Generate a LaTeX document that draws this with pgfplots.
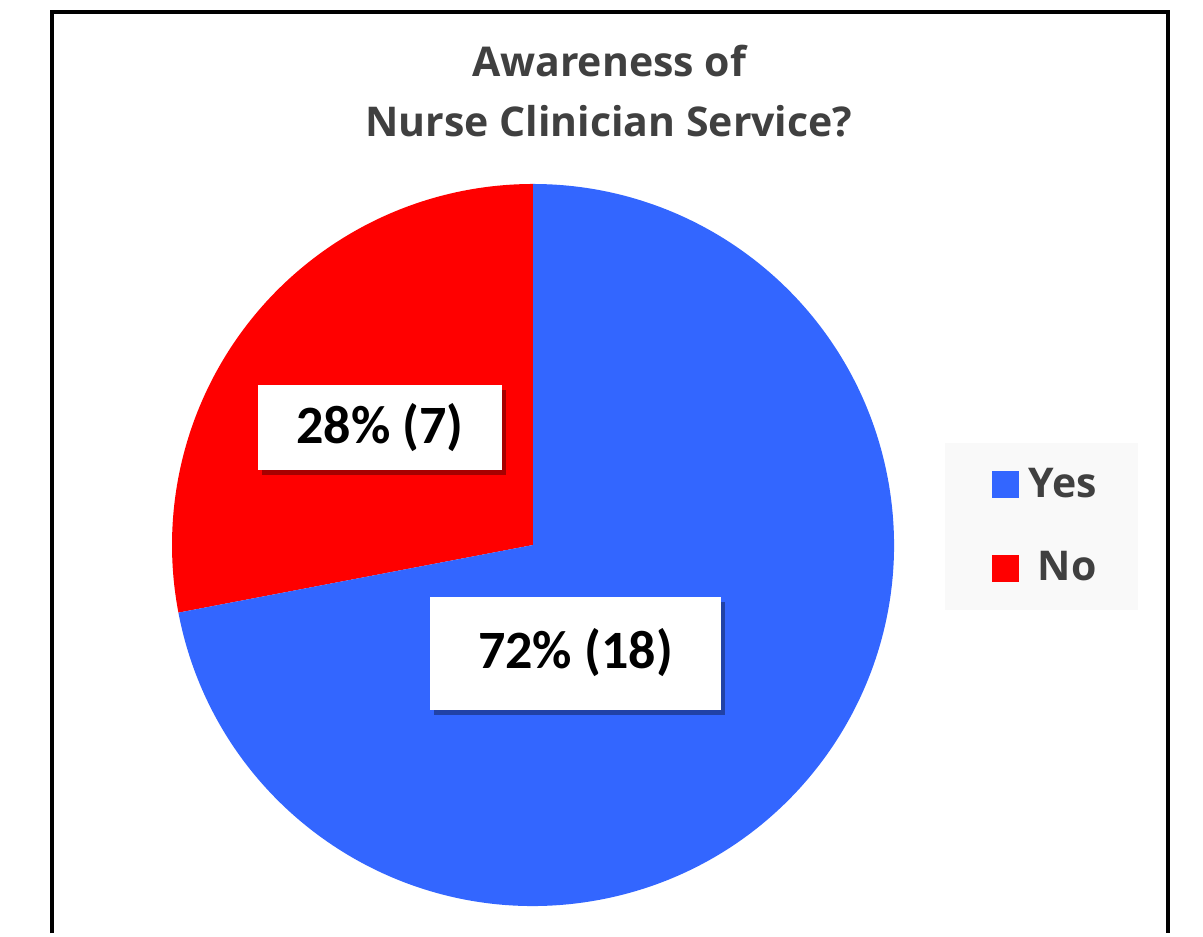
\documentclass[border=0pt]{standalone}
\usepackage{pgfplots}
\pgfplotsset{compat=1.18}
\usepackage{fontspec}
\setmainfont{Carlito}
\newfontfamily\osans{Open Sans}
\definecolor{yesblue}{HTML}{3366FF}
\definecolor{nored}{HTML}{FF0000}
\definecolor{txtgray}{HTML}{404040}
\definecolor{legbg}{HTML}{F9F9F9}
\begin{document}
\begin{tikzpicture}
% data
\def\yesval{18}
\def\noval{7}
\pgfmathsetmacro{\total}{\yesval+\noval}
\pgfmathsetmacro{\noend}{90+360*\noval/\total}
\begin{axis}[x=0.5pt,y=0.5pt,xmin=0,xmax=1203,ymin=0,ymax=933,
  hide axis, clip=false, scale only axis]
\fill[white] (axis cs:0,0) rectangle (axis cs:1203,933);
% frame
\draw[black,line width=1.6pt] (axis cs:52,0) -- (axis cs:52,921) -- (axis cs:1168,921) -- (axis cs:1168,0);
% pie
\fill[nored] (axis cs:533,388) -- ++(90:180.5pt) arc[start angle=90, end angle=\noend, radius=180.5pt] -- cycle;
\fill[yesblue] (axis cs:533,388) -- ++(\noend:180.5pt) arc[start angle=\noend, end angle=450, radius=180.5pt] -- cycle;
% title
\node[anchor=base, text=txtgray, font=\osans\bfseries\fontsize{20.5}{25}\selectfont] at (axis cs:609,856) {Awareness of};
\node[anchor=base, text=txtgray, font=\osans\bfseries\fontsize{20.5}{25}\selectfont] at (axis cs:609,796) {Nurse Clinician Service?};
% data labels
\fill[black,opacity=0.35] (axis cs:262,458) rectangle (axis cs:506,543);
\fill[white] (axis cs:258,463) rectangle (axis cs:502,548);
\node[font=\bfseries\fontsize{27}{31}\selectfont] at (axis cs:380,505.5) {28\% (7)};
\fill[black,opacity=0.35] (axis cs:434,218) rectangle (axis cs:725,331);
\fill[white] (axis cs:430,223) rectangle (axis cs:721,336);
\node[font=\bfseries\fontsize{27}{31}\selectfont] at (axis cs:575.5,280) {72\% (18)};
% legend
\fill[legbg] (axis cs:945,323) rectangle (axis cs:1138,490);
\fill[yesblue] (axis cs:992,435) rectangle (axis cs:1019,462);
\fill[nored] (axis cs:992,351) rectangle (axis cs:1019,378);
\node[anchor=base east, text=txtgray, font=\osans\bfseries\fontsize{20.5}{24}\selectfont, inner sep=0pt] at (axis cs:1097,435) {Yes};
\node[anchor=base east, text=txtgray, font=\osans\bfseries\fontsize{20.5}{24}\selectfont, inner sep=0pt] at (axis cs:1097,352) {No};
\end{axis}
\end{tikzpicture}
\end{document}
